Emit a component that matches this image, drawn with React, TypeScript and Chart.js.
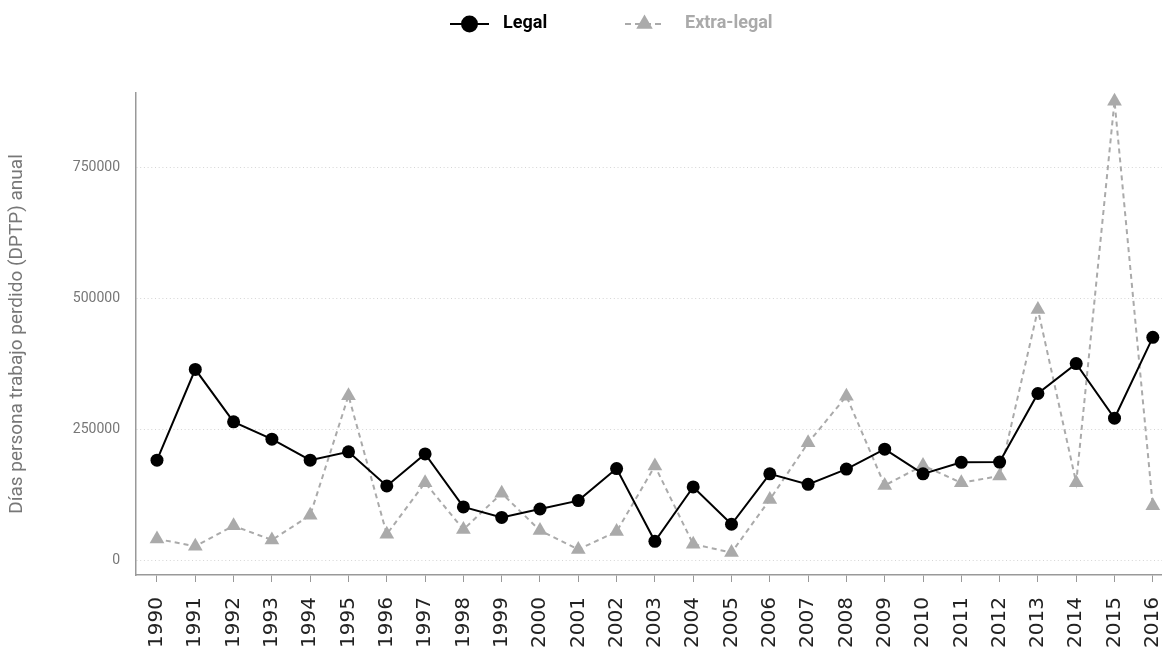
import React, { useEffect, useRef } from 'react';
import { Chart, registerables } from 'chart.js';

Chart.register(...registerables);

const years = [1990, 1991, 1992, 1993, 1994, 1995, 1996, 1997, 1998, 1999, 2000, 2001, 2002, 2003, 2004, 2005, 2006, 2007, 2008, 2009, 2010, 2011, 2012, 2013, 2014, 2015, 2016];
const legalValues = [192000, 365000, 265000, 232000, 192000, 208000, 143000, 204000, 103000, 83000, 99000, 115000, 176000, 37500, 141000, 70000, 166000, 146000, 175000, 213000, 166000, 188000, 188500, 319000, 376000, 272000, 426000];
const extraLegalValues = [42000, 28000, 67000, 40000, 87000, 315000, 51000, 149000, 60000, 129000, 58000, 22000, 56000, 181000, 32000, 16000, 117000, 225000, 314000, 144000, 182000, 149000, 162000, 479000, 149000, 876000, 105000];
const seriesNames = ['Legal', 'Extra-legal'];
const yTickValues = [0, 250000, 500000, 750000];
const yAxisTitle = 'Días persona trabajo perdido (DPTP) anual';

function drawMarker(ctx: CanvasRenderingContext2D, style: string, x: number, y: number, r: number) {
  ctx.beginPath();
  if (style === 'triangle') {
    ctx.moveTo(x, y - r);
    ctx.lineTo(x + (r * Math.sqrt(3)) / 2, y + r / 2);
    ctx.lineTo(x - (r * Math.sqrt(3)) / 2, y + r / 2);
    ctx.closePath();
  } else {
    ctx.arc(x, y, r, 0, Math.PI * 2);
  }
  ctx.fill();
}

const legendPlugin = {
  id: 'customLegend',
  afterDraw(chart: any) {
    const ctx: CanvasRenderingContext2D = chart.ctx;
    const cx = chart.width / 2;
    const keyOffsets = [-131, 44];
    const textOffsets = [-78, 104];
    const y = 24;
    chart.data.datasets.forEach((ds: any, i: number) => {
      const x0 = cx + keyOffsets[i];
      ctx.save();
      ctx.strokeStyle = ds.borderColor;
      ctx.lineWidth = ds.borderWidth;
      ctx.setLineDash(ds.borderDash && ds.borderDash.length ? [6, 4] : []);
      ctx.beginPath();
      ctx.moveTo(x0, y);
      ctx.lineTo(x0 + 39, y);
      ctx.stroke();
      ctx.setLineDash([]);
      ctx.fillStyle = ds.pointBackgroundColor;
      drawMarker(ctx, ds.pointStyle, x0 + 19.5, y, ds.pointStyle === 'triangle' ? 9.5 : 8.5);
      ctx.font = 'bold 18px Roboto';
      ctx.fillStyle = ds.borderColor;
      ctx.textBaseline = 'middle';
      ctx.textAlign = 'left';
      ctx.fillText(ds.label, cx + textOffsets[i], y - 0.5);
      ctx.restore();
    });
  },
};

export default function App() {
  const canvasRef = useRef<HTMLCanvasElement | null>(null);

  useEffect(() => {
    if (!canvasRef.current) return;
    document.body.style.margin = '0';
    const chart = new Chart(canvasRef.current, {
      type: 'line',
      data: {
        datasets: [
          {
            label: seriesNames[0],
            data: years.map((yr, i) => ({ x: yr, y: legalValues[i] })),
            borderColor: '#000000',
            backgroundColor: '#000000',
            borderWidth: 2,
            pointStyle: 'circle',
            pointRadius: 6.5,
            pointBackgroundColor: '#000000',
            pointBorderWidth: 0,
            tension: 0,
            clip: 12,
          },
          {
            label: seriesNames[1],
            data: years.map((yr, i) => ({ x: yr, y: extraLegalValues[i] })),
            borderColor: '#aaaaaa',
            backgroundColor: '#aaaaaa',
            borderWidth: 2,
            borderDash: [5, 4],
            pointStyle: 'triangle',
            pointRadius: 8.5,
            pointBackgroundColor: '#aaaaaa',
            pointBorderWidth: 0,
            tension: 0,
            clip: 12,
          },
        ],
      },
      options: {
        animation: false,
        responsive: false,
        devicePixelRatio: 1,
        layout: { autoPadding: false, padding: { top: 93, left: 0, right: 0, bottom: 0 } },
        plugins: {
          legend: { display: false },
          tooltip: { enabled: false },
        },
        scales: {
          x: {
            type: 'linear',
            min: 1989.452,
            max: 2016.24,
            afterBuildTicks: (scale: any) => {
              scale.ticks = years.map((v) => ({ value: v }));
            },
            afterFit: (scale: any) => {
              scale.height = 72;
              scale.paddingLeft = 0;
              scale.paddingRight = 0;
            },
            ticks: {
              autoSkip: false,
              minRotation: 90,
              maxRotation: 90,
              padding: 15,
              color: '#222222',
              font: { family: 'DejaVu Sans', size: 20 },
              callback: (v: any) => String(v),
            },
            grid: {
              drawOnChartArea: false,
              drawTicks: true,
              tickLength: 7,
              color: '#999999',
              lineWidth: 1,
            },
            border: { display: true, color: '#999999', width: 1.5 },
          },
          y: {
            type: 'linear',
            min: -26700,
            max: 891500,
            afterBuildTicks: (scale: any) => {
              scale.ticks = yTickValues.map((v) => ({ value: v }));
            },
            afterFit: (scale: any) => {
              scale.width = 136;
              scale.paddingTop = 0;
              scale.paddingBottom = 0;
            },
            ticks: {
              padding: 16,
              color: '#777777',
              font: { family: 'Roboto', size: 14 },
              callback: (v: any) => String(v),
            },
            grid: {
              drawTicks: false,
              color: '#d5d5d5',
              lineWidth: 1,
            },
            border: { display: true, color: '#999999', width: 1.5, dash: [1, 2.7] },
            title: {
              display: true,
              text: yAxisTitle,
              color: '#777777',
              font: { family: 'Roboto', size: 19 },
              padding: { top: 6, bottom: 0 },
            },
          },
        },
      },
      plugins: [legendPlugin],
    });
    return () => chart.destroy();
  }, []);

  return (
    <div style={{ position: 'absolute', left: 0, top: 0, width: 1162, height: 647, background: '#ffffff' }}>
      <canvas ref={canvasRef} width={1162} height={647} style={{ display: 'block', width: 1162, height: 647 }} />
    </div>
  );
}
